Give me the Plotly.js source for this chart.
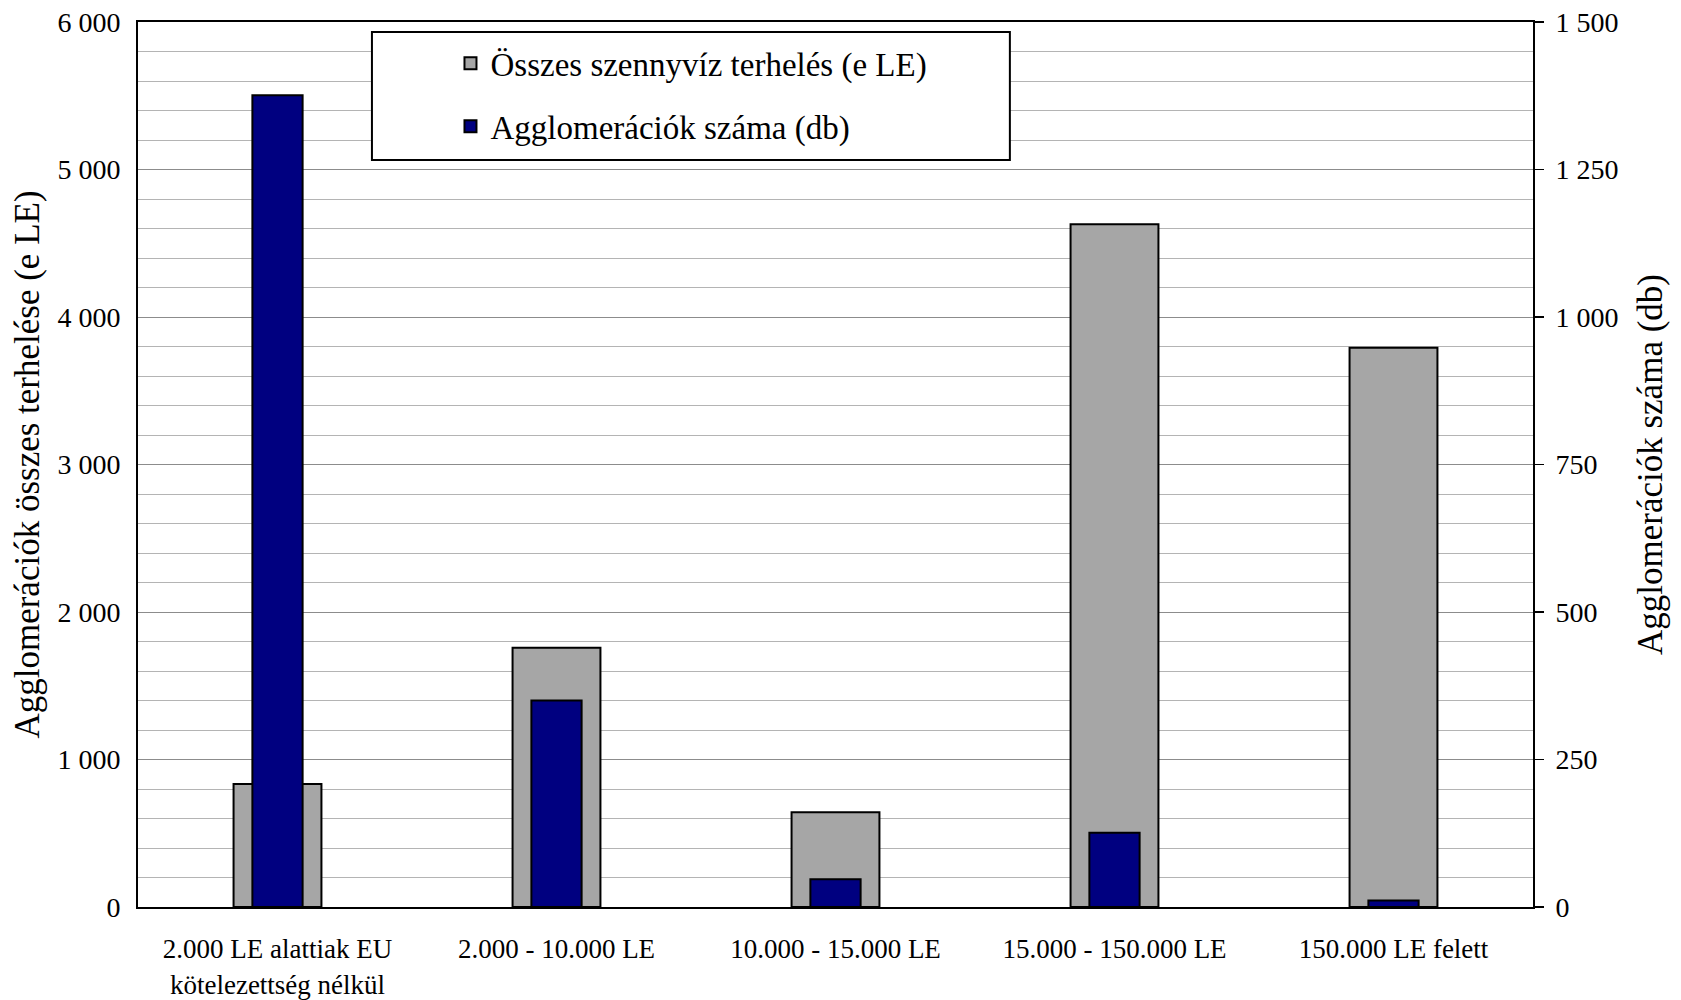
<!DOCTYPE html>
<html>
<head>
<meta charset="utf-8">
<script src="https://cdn.plot.ly/plotly-3.0.1.min.js"></script>
<style>html,body{margin:0;padding:0;background:#fff;}#chart{width:1681px;height:1000px;}</style>
</head>
<body>
<div id="chart"></div>
<script>
const categories = [
  "2.000 LE alattiak EU<br>kötelezettség nélkül",
  "2.000 - 10.000 LE",
  "10.000 - 15.000 LE",
  "15.000 - 150.000 LE",
  "150.000 LE felett"
];
const loadValues = [834, 1758, 642, 4628, 3792];      // Összes szennyvíz terhelés (e LE)
const countValues = [1376, 350, 47, 126, 11];          // Agglomerációk száma (db)
const leftTickVals = [0, 1000, 2000, 3000, 4000, 5000, 6000];
const leftTickText = ["0", "1 000", "2 000", "3 000", "4 000", "5 000", "6 000"];
const rightTickVals = [0, 250, 500, 750, 1000, 1250, 1500];
const rightTickText = ["0", "250", "500", "750", "1 000", "1 250", "1 500"];
const seriesNames = ["Összes szennyvíz terhelés (e LE)", "Agglomerációk száma (db)"];

const FONT = "'Liberation Serif', 'Times New Roman', serif";

const traces = [
  {
    type: 'bar', x: categories, y: loadValues, name: seriesNames[0],
    yaxis: 'y', width: 0.315, offset: -0.1575,
    marker: {color: '#a6a6a6', line: {color: '#000', width: 2}},
    legendgroup: 'a', hoverinfo: 'y'
  },
  {
    type: 'bar', x: categories, y: countValues, name: seriesNames[1],
    yaxis: 'y2', width: 0.18, offset: -0.09,
    marker: {color: '#000080', line: {color: '#000', width: 2}},
    legendgroup: 'b', hoverinfo: 'y'
  }
];

const layout = {
  width: 1681, height: 1000,
  margin: {l: 138, r: 148, t: 22, b: 93, pad: 0},
  paper_bgcolor: '#fff', plot_bgcolor: '#fff',
  font: {family: FONT, color: '#000', size: 28},
  showlegend: true,
  legend: {
    x: 0.224, y: 0.985, xanchor: 'left', yanchor: 'top',
    bgcolor: 'rgba(0,0,0,0)', borderwidth: 0,
    font: {family: FONT, size: 33, color: '#000'},
    traceorder: 'grouped', tracegroupgap: 17
  },
  shapes: [{
    type: 'rect', xref: 'paper', yref: 'paper',
    x0: 0.1677, x1: 0.625, y0: 0.844, y1: 0.9887,
    fillcolor: '#fff', line: {color: '#000', width: 2}, layer: 'above'
  }],
  xaxis: {
    type: 'category', showline: true, mirror: true, linecolor: '#000', linewidth: 2,
    ticks: '', showgrid: false, tickfont: {family: FONT, size: 27},
    ticklabelstandoff: 17, automargin: false
  },
  yaxis: {
    range: [0, 6000], tickmode: 'array', tickvals: leftTickVals, ticktext: leftTickText,
    showline: true, linecolor: '#000', linewidth: 2, ticks: '',
    showgrid: true, gridcolor: '#8c8c8c', gridwidth: 1,
    minor: {dtick: 200, tick0: 0, showgrid: true, gridcolor: '#b4b4b4', gridwidth: 1, ticks: ''},
    zeroline: false, tickfont: {family: FONT, size: 28}, ticklabelstandoff: 10,
    title: {text: 'Agglomerációk összes terhelése (e LE)', font: {family: FONT, size: 35}, standoff: 7},
    automargin: false, fixedrange: true
  },
  yaxis2: {
    range: [0, 1500], overlaying: 'y', side: 'right', tickmode: 'array',
    tickvals: rightTickVals, ticktext: rightTickText,
    showline: true, linecolor: '#000', linewidth: 2,
    ticks: 'outside', ticklen: 9, tickwidth: 1.5, tickcolor: '#000',
    showgrid: false, zeroline: false, tickfont: {family: FONT, size: 28}, ticklabelstandoff: 6,
    title: {text: 'Agglomerációk száma (db)', font: {family: FONT, size: 35}, standoff: 20},
    automargin: false, fixedrange: true
  },
  bargap: 0, hovermode: false
};

Plotly.newPlot('chart', traces, layout, {displayModeBar: false, staticPlot: true});
</script>
</body>
</html>
